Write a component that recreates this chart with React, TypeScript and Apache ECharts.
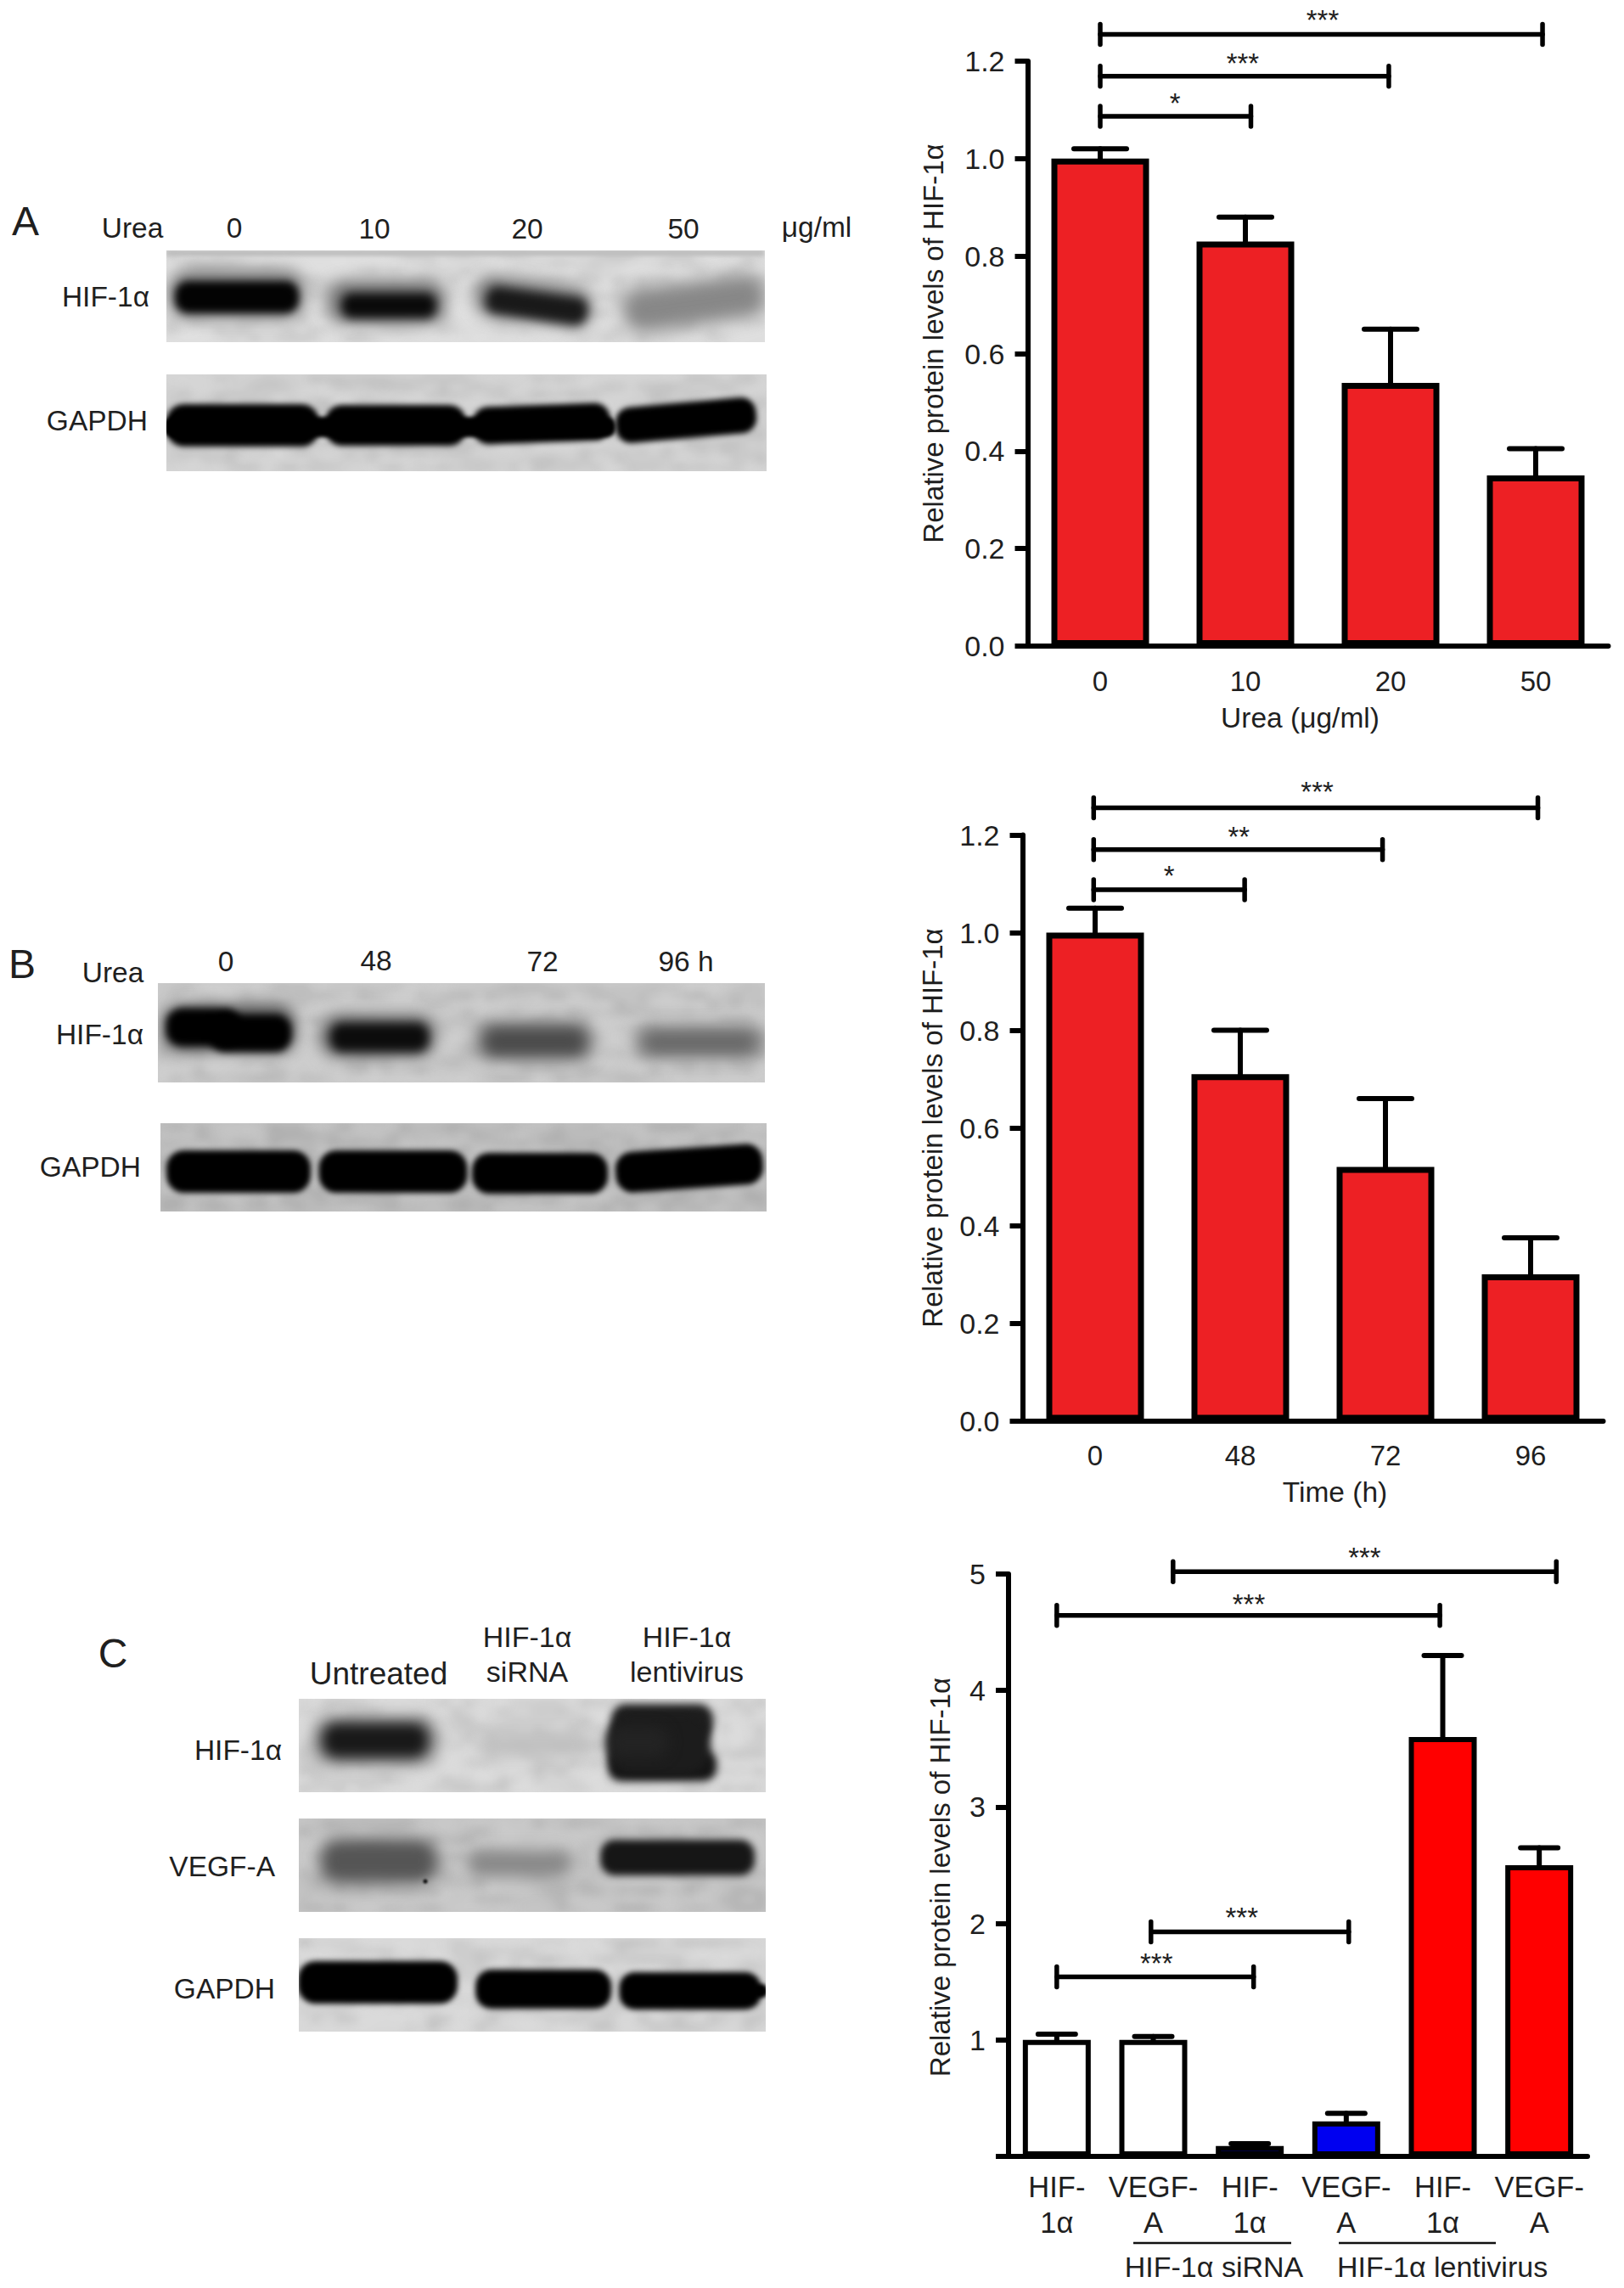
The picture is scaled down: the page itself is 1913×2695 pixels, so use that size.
import React, { useEffect, useRef } from "react";
import * as echarts from "echarts";

const FONT = '"Liberation Sans", Arial, sans-serif';
const INK = "#1f1f1f";

// ---- values ----
const catsA = ["0", "10", "20", "50"];
const meanA = [1.0, 0.83, 0.54, 0.35];
const upperA = [1.02, 0.88, 0.65, 0.405];
const catsB = ["0", "48", "72", "96"];
const meanB = [1.0, 0.71, 0.52, 0.3];
const upperB = [1.05, 0.8, 0.66, 0.375];
const catsC = ["HIF-\n1α", "VEGF-\nA", "HIF-\n1α", "VEGF-\nA", "HIF-\n1α", "VEGF-\nA"];
const meanC = [1.0, 1.0, 0.09, 0.3, 3.6, 2.5];
const upperC = [1.05, 1.03, 0.11, 0.37, 4.3, 2.65];
const colorsC = ["#ffffff", "#ffffff", "#0000f0", "#0000f0", "#ff0000", "#ff0000"];

// from, to, height, star x, star height, stars
const bracketsA: any[][] = [
  [0, 3.047, 1.255, 1.532, 1.293, "***"],
  [0, 1.988, 1.169, 0.982, 1.204, "***"],
  [0, 1.038, 1.087, 0.515, 1.123, "*"],
];
const bracketsB: any[][] = [
  [-0.01, 3.05, 1.2555, 1.53, 1.297, "***"],
  [-0.01, 1.98, 1.17, 0.99, 1.206, "**"],
  [-0.01, 1.03, 1.088, 0.51, 1.126, "*"],
];
const bracketsC: any[][] = [
  [1.205, 5.177, 5.02, 3.19, 5.177, "***"],
  [0, 3.97, 4.645, 1.99, 4.781, "***"],
  [0.976, 3.026, 1.928, 1.917, 2.086, "***"],
  [0, 2.04, 1.542, 1.033, 1.691, "***"],
];

// ---- blot panels: drawn as pictures ----
type Band = [number, number, number, number, number, number, number?];
const blots: { x: number; y: number; w: number; h: number; bg: number; bands: Band[] }[] = [
  { x: 196, y: 295, w: 705, h: 108, bg: 222, bands: [
    [548, 298, 705, 7, 190, 2],
    [279, 346, 160, 58, 130, 9], [279, 350, 146, 38, 3, 5],
    [455, 355, 140, 50, 120, 9], [458, 360, 112, 30, 10, 6],
    [628, 355, 138, 48, 125, 9, 8], [632, 360, 120, 32, 25, 6, 8],
    [818, 357, 168, 50, 135, 10, -8],
  ] },
  { x: 196, y: 441, w: 707, h: 114, bg: 212, bands: [
    [286, 501, 180, 50, 0, 3], [466, 501, 166, 48, 0, 3], [638, 499, 162, 44, 0, 3, -2], [808, 495, 166, 42, 0, 3, -5],
    [460, 503, 530, 24, 0, 2], [208, 503, 26, 20, 0, 2],
  ] },
  { x: 186, y: 1158, w: 715, h: 117, bg: 203, bands: [
    [270, 1211, 158, 56, 90, 8], [240, 1210, 88, 44, 0, 4], [295, 1217, 96, 44, 0, 4],
    [445, 1220, 136, 50, 110, 9], [447, 1222, 116, 34, 12, 6],
    [630, 1226, 138, 46, 110, 9], [630, 1227, 112, 26, 75, 7],
    [824, 1227, 154, 40, 130, 9], [824, 1228, 124, 20, 105, 7],
  ] },
  { x: 189, y: 1323, w: 714, h: 104, bg: 192, bands: [
    [281, 1380, 170, 50, 0, 3], [463, 1380, 175, 50, 0, 3], [636, 1382, 160, 48, 0, 3], [812, 1376, 174, 48, 0, 3, -4],
  ] },
  { x: 352, y: 2001, w: 550, h: 110, bg: 218, bands: [
    [442, 2050, 146, 56, 120, 9], [442, 2050, 122, 38, 25, 7],
    [632, 2056, 132, 24, 190, 9],
    [780, 2028, 120, 42, 30, 5], [780, 2080, 128, 36, 20, 5], [776, 2055, 122, 70, 28, 5], [752, 2052, 70, 36, 35, 8],
  ] },
  { x: 352, y: 2142, w: 550, h: 110, bg: 198, bands: [
    [446, 2192, 138, 52, 85, 9], [612, 2195, 122, 30, 135, 9], [798, 2188, 182, 42, 22, 4],
    [501, 2216, 5, 5, 20, 1],
  ] },
  { x: 352, y: 2283, w: 550, h: 110, bg: 216, bands: [
    [445, 2335, 188, 50, 0, 3], [640, 2343, 160, 46, 0, 3], [813, 2345, 167, 44, 0, 3], [895, 2345, 18, 16, 0, 2],
  ] },
];

// ---- texts of the left-hand panels ----
type Label = [string, number, number, string, number?];
const pageLabels: Label[] = [
  ["A", 30, 260, "center", 48], ["B", 26, 1135, "center", 48], ["C", 133, 1947, "center", 48],
  ["Urea", 156, 268, "center"], ["0", 276, 268, "center"], ["10", 441, 269, "center"], ["20", 621, 269, "center"],
  ["50", 805, 269, "center"], ["μg/ml", 962, 267, "center"], ["HIF-1α", 176, 349, "right"], ["GAPDH", 174, 495, "right"],
  ["Urea", 133, 1145, "center"], ["0", 266, 1132, "center"], ["48", 443, 1131, "center"], ["72", 639, 1132, "center"],
  ["96 h", 808, 1132, "center"], ["HIF-1α", 169, 1218, "right"], ["GAPDH", 166, 1374, "right"],
  ["Untreated", 446, 1971, "center", 37], ["HIF-1α", 621, 1928, "center", 34], ["siRNA", 621, 1969, "center", 34],
  ["HIF-1α", 809, 1928, "center", 34], ["lentivirus", 809, 1969, "center", 34],
  ["HIF-1α", 332, 2061, "right"], ["VEGF-A", 324, 2198, "right"], ["GAPDH", 324, 2342, "right"],
  ["HIF-1α siRNA", 1430, 2670, "center", 34], ["HIF-1α lentivirus", 1699, 2670, "center", 34],
];

function paintBlot(b: (typeof blots)[number]): string {
  const c = document.createElement("canvas");
  c.width = b.w; c.height = b.h;
  const g = c.getContext("2d")!;
  g.fillStyle = `rgb(${b.bg},${b.bg},${b.bg})`;
  g.fillRect(0, 0, b.w, b.h);
  // mottled film grain: a small seeded texture, stretched and soft
  const n = document.createElement("canvas");
  n.width = Math.ceil(b.w / 14); n.height = Math.ceil(b.h / 10);
  const ng = n.getContext("2d")!;
  let seed = b.x * 31 + b.y;
  for (let yy = 0; yy < n.height; yy++) for (let xx = 0; xx < n.width; xx++) {
    seed = (seed * 1103515245 + 12345) & 0x7fffffff;
    const d = (seed >> 8) % 2 ? 255 : 0;
    ng.fillStyle = `rgba(${d},${d},${d},${((seed >> 12) % 100) / 1000})`;
    ng.fillRect(xx, yy, 1, 1);
  }
  g.imageSmoothingEnabled = true;
  g.filter = "blur(4px)";
  g.drawImage(n, 0, 0, b.w, b.h);
  for (const [cx, cy, w, h, s, blur, rot] of b.bands) {
    g.save();
    g.filter = `blur(${blur}px)`;
    g.translate(cx - b.x, cy - b.y);
    g.rotate(((rot || 0) * Math.PI) / 180);
    g.fillStyle = `rgb(${s},${s},${s})`;
    g.beginPath();
    g.roundRect(-w / 2, -h / 2, w, h, h / 2.4);
    g.fill();
    g.restore();
  }
  return c.toDataURL("image/png");
}

const panelSpecs = [
  { left: 1210.5, top: 72, width: 684, height: 689, cats: catsA, mean: meanA, upper: upperA, colors: meanA.map(() => "#ed2024"),
    brackets: bracketsA, barW: 115, capW: 62, max: 1.2, step: 0.2, border: 7,
    xName: "Urea (μg/ml)", xPad: [0, 42, 0, 0], xGap: 67, yPad: [0, 0, 0, 24], yGap: 95 },
  { left: 1204.5, top: 983.5, width: 684, height: 690, cats: catsB, mean: meanB, upper: upperB, colors: meanB.map(() => "#ed2024"),
    brackets: bracketsB, barW: 115, capW: 62, max: 1.2, step: 0.2, border: 7,
    xName: "Time (h)", xPad: [0, 0, 0, 52], xGap: 67, yPad: [0, 0, 0, 0], yGap: 90 },
  { left: 1188, top: 1854, width: 682, height: 686, cats: catsC, mean: meanC, upper: upperC, colors: colorsC,
    brackets: bracketsC, barW: 80, capW: 44, max: 5, step: 1, border: 6,
    xName: "", xPad: [0, 0, 0, 0], xGap: 0, yPad: [0, 28, 0, 0], yGap: 64 },
];

export default function App() {
  const ref = useRef<HTMLDivElement>(null);
  useEffect(() => {
    const chart = echarts.init(ref.current!, undefined, { renderer: "svg" });
    const grid: any[] = [], xAxis: any[] = [], yAxis: any[] = [], series: any[] = [];
    panelSpecs.forEach((p, i) => {
      const n = p.cats.length;
      grid.push({ left: p.left, top: p.top, width: p.width, height: p.height, containLabel: false });
      xAxis.push({
        type: "category", gridIndex: i, data: p.cats, name: p.xName, nameLocation: "middle", nameGap: p.xGap,
        nameTextStyle: { fontFamily: FONT, fontSize: 33.5, color: INK, padding: p.xPad },
        axisLine: { onZero: false, lineStyle: { color: "#000", width: 6 } },
        axisTick: { alignWithLabel: true, length: 14, lineStyle: { color: "#000", width: 6 } },
        axisLabel: { fontFamily: FONT, fontSize: i === 2 ? 34.5 : 33, color: INK, margin: i === 2 ? 15 : 20, lineHeight: 42, interval: 0 },
      });
      xAxis.push({ type: "value", gridIndex: i, show: false, min: -0.5, max: n - 0.5, splitLine: { show: false } });
      yAxis.push({
        type: "value", gridIndex: i, min: 0, max: p.max, interval: p.step,
        name: "Relative protein levels of HIF-1α", nameLocation: "middle", nameGap: p.yGap, nameRotate: 90,
        nameTextStyle: { fontFamily: FONT, fontSize: 33, color: INK, padding: p.yPad },
        axisLine: { show: true, onZero: false, lineStyle: { color: "#000", width: 6 } },
        axisTick: { show: true, length: 15, lineStyle: { color: "#000", width: 6 } },
        splitLine: { show: false },
        axisLabel: { fontFamily: FONT, fontSize: 34, color: INK, margin: 27,
          formatter: (v: number) => (i === 2 ? (v === 0 ? "" : String(v)) : v.toFixed(1)) },
      });
      const catAxis = i * 2, valAxis = i * 2 + 1;
      series.push({
        type: "bar", xAxisIndex: catAxis, yAxisIndex: i, barWidth: p.barW, z: 3,
        data: p.mean.map((v, k) => ({ value: v, itemStyle: { color: p.colors[k], borderColor: "#000", borderWidth: p.border } })),
      });
      series.push({
        type: "custom", xAxisIndex: catAxis, yAxisIndex: i, clip: false, z: 2,
        data: p.mean.map((v, k) => [k, v, p.upper[k]]),
        renderItem: (_: any, api: any) => {
          const a = api.coord([api.value(0), api.value(1)]);
          const b = api.coord([api.value(0), api.value(2)]);
          const st = { stroke: "#000", lineWidth: 6, lineCap: "round" };
          return { type: "group", children: [
            { type: "line", shape: { x1: a[0], y1: a[1], x2: b[0], y2: b[1] }, style: st },
            { type: "line", shape: { x1: b[0] - p.capW / 2, y1: b[1], x2: b[0] + p.capW / 2, y2: b[1] }, style: st },
          ] };
        },
      });
      series.push({
        type: "custom", xAxisIndex: valAxis, yAxisIndex: i, clip: false, z: 4,
        data: p.brackets.map((r) => r.slice(0, 5)),
        renderItem: (params: any, api: any) => {
          const a = api.coord([api.value(0), api.value(2)]);
          const b = api.coord([api.value(1), api.value(2)]);
          const t = api.coord([api.value(3), api.value(4)]);
          const st = { stroke: "#000", lineWidth: 5.5, lineCap: "round" };
          const cap = 12;
          return { type: "group", children: [
            { type: "line", shape: { x1: a[0], y1: a[1], x2: b[0], y2: b[1] }, style: st },
            { type: "line", shape: { x1: a[0], y1: a[1] - cap, x2: a[0], y2: a[1] + cap }, style: st },
            { type: "line", shape: { x1: b[0], y1: b[1] - cap, x2: b[0], y2: b[1] + cap }, style: st },
            { type: "text", x: t[0], y: t[1] + 5, style: { text: p.brackets[params.dataIndex][5], fontFamily: FONT, fontSize: 33, fill: INK, align: "center", verticalAlign: "middle" } },
          ] };
        },
      });
    });

    const graphic: any[] = [];
    blots.forEach((b) => graphic.push({ type: "image", x: b.x, y: b.y, z: 0, style: { image: paintBlot(b), width: b.w, height: b.h } }));
    pageLabels.forEach(([text, x, y, align, size]) => graphic.push({
      type: "text", x, y, z: 5, style: { text, fontFamily: FONT, fontSize: size || 33.5, fill: INK, align, verticalAlign: "middle" },
    }));
    graphic.push({ type: "line", z: 5, shape: { x1: 1335, y1: 2642, x2: 1521, y2: 2642 }, style: { stroke: "#111", lineWidth: 2.5 } });
    graphic.push({ type: "line", z: 5, shape: { x1: 1577, y1: 2642, x2: 1762, y2: 2642 }, style: { stroke: "#111", lineWidth: 2.5 } });

    chart.setOption({ animation: false, backgroundColor: "#fff", grid, xAxis, yAxis, series, graphic });
    return () => chart.dispose();
  }, []);
  return <div ref={ref} style={{ position: "absolute", left: 0, top: 0, width: 1913, height: 2695 }} />;
}
